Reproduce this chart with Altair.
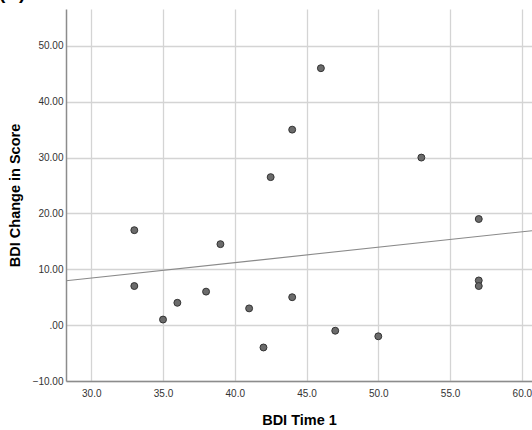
import altair as alt
import pandas as pd

bdi_time1 = [33, 33, 35, 36, 38, 39, 41, 42, 42.5, 44, 44, 46, 47, 50, 53, 57, 57, 57]
bdi_change = [17, 7, 1, 4, 6, 14.5, 3, -4, 26.5, 35, 5, 46, -1, -2, 30, 19, 8, 7]
x_ticks = [30, 35, 40, 45, 50, 55, 60]
y_ticks = [-10, 0, 10, 20, 30, 40, 50]

df = pd.DataFrame({"x": bdi_time1, "y": bdi_change})

XD = [28.24, 60.71]
YD = [-10, 56.6]
FONT = "Liberation Sans"

xscale = alt.Scale(domain=XD, nice=False, zero=False)
yscale = alt.Scale(domain=YD, nice=False, zero=False)

xaxis = alt.Axis(
    title="BDI Time 1", values=x_ticks, format=".1f", grid=True,
    gridColor="#d4d4d4", gridWidth=1.3, domainColor="#8c8c8c", domainWidth=1.5,
    ticks=False, labelFont=FONT, labelFontSize=10, labelColor="#333333",
    labelPadding=7, titleFont=FONT, titleFontSize=14.5, titleFontWeight="bold",
    titleColor="#000000", titlePadding=15, labelFlush=False,
)
yaxis = alt.Axis(
    title="BDI Change in Score", values=y_ticks, grid=True,
    labelExpr="datum.value == 0 ? '.00' : format(datum.value, '.2f')",
    gridColor="#d4d4d4", gridWidth=1.3, domainColor="#8c8c8c", domainWidth=1.5,
    ticks=False, labelFont=FONT, labelFontSize=10, labelColor="#333333",
    labelPadding=3, titleFont=FONT, titleFontSize=14.5, titleFontWeight="bold",
    titleColor="#000000", titlePadding=10, labelFlush=False,
)

base = alt.Chart(df)

points = base.mark_circle(
    size=48, color="#6b6b6b", stroke="#333333", strokeWidth=1, opacity=1
).encode(
    x=alt.X("x:Q", scale=xscale, axis=xaxis),
    y=alt.Y("y:Q", scale=yscale, axis=yaxis),
)

line = base.transform_regression("x", "y", extent=XD).mark_line(
    color="#8a8a8a", strokeWidth=1.1, clip=True
).encode(
    x=alt.X("x:Q", scale=xscale),
    y=alt.Y("y:Q", scale=yscale),
)

label = alt.Chart(pd.DataFrame({"t": ["(A)"]})).mark_text(
    font=FONT, fontSize=19, fontWeight="bold", align="left",
    baseline="alphabetic", color="#000000"
).encode(text="t:N", x=alt.value(-67), y=alt.value(-10))

chart = alt.layer(line, points, label).properties(
    width=466, height=372,
    padding={"left": 66, "top": 9, "right": 0, "bottom": 49},
    autosize=alt.AutoSizeParams(type="none"),
).configure_view(strokeWidth=0)

chart.save("out.html", embed_options={"renderer": "svg", "actions": False})
